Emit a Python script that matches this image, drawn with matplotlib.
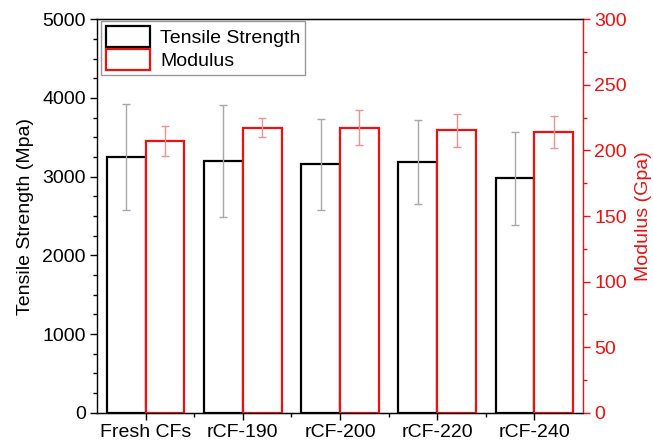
import matplotlib.pyplot as plt
import numpy as np

plt.rcParams['font.family'] = ['Liberation Sans', 'DejaVu Sans']

# данные
samples = ["Fresh CFs", "rCF-190", "rCF-200", "rCF-220", "rCF-240"]
strength = [3253, 3198, 3157, 3186, 2978]        # Mpa
strength_err = [675, 713, 580, 533, 590]
modulus = [207.2, 217.4, 217.4, 215.4, 214.1]    # Gpa
modulus_err = [11.2, 7.4, 13.3, 12.6, 12.0]

x = np.arange(len(samples))
w = 0.4
fs = 14

fig = plt.figure(figsize=(6.53, 4.44), dpi=100)
ax1 = fig.add_axes([0.1485, 0.0705, 0.7443, 0.886])
ax2 = ax1.twinx()

# прочность (черные столбцы)
b1 = ax1.bar(x - w / 2, strength, w, facecolor='white', edgecolor='black',
             linewidth=1.6, label='Tensile Strength', zorder=2)
ax1.errorbar(x - w / 2, strength, yerr=strength_err, fmt='none',
             ecolor='#a8a8a8', elinewidth=1.0, capsize=2.8, capthick=1.0,
             zorder=3)

# модуль (красные столбцы)
b2 = ax2.bar(x + w / 2, modulus, w, facecolor='white', edgecolor='#ee1111',
             linewidth=1.6, label='Modulus', zorder=2)
ax2.errorbar(x + w / 2, modulus, yerr=modulus_err, fmt='none',
             ecolor='#f09090', elinewidth=1.0, capsize=2.8, capthick=1.0,
             zorder=3)

ax1.set_xlim(-0.5, 4.5)
ax1.set_ylim(0, 5000)
ax2.set_ylim(0, 300)

ax1.set_xticks(x)
ax1.set_xticklabels(samples, fontsize=fs)
ax1.set_xticks(x[:-1] + 0.5, minor=True)
ax1.set_yticks(np.arange(0, 5001, 1000))
ax1.set_yticks(np.arange(0, 5001, 250), minor=True)
ax2.set_yticks(np.arange(0, 301, 50))
ax2.set_yticks(np.arange(0, 301, 25), minor=True)

ax1.tick_params(axis='both', which='major', direction='out', length=5,
                width=1.0, labelsize=fs, pad=3)
ax1.tick_params(axis='both', which='minor', direction='out', length=3,
                width=1.0)
ax2.tick_params(axis='y', which='major', direction='out', length=5,
                width=1.0, labelsize=fs, colors='#ee1111', pad=3)
ax2.tick_params(axis='y', which='minor', direction='out', length=3,
                width=1.0, colors='#ee1111')

for sp in ['left', 'bottom', 'top']:
    ax1.spines[sp].set_linewidth(1.0)
ax2.spines['right'].set_color('#ee1111')
ax2.spines['right'].set_linewidth(1.0)
ax2.spines['left'].set_visible(False)
ax1.spines['right'].set_visible(False)

ax1.set_ylabel("Tensile Strength (Mpa)", fontsize=fs, labelpad=6)
ax2.set_ylabel("Modulus (Gpa)", fontsize=fs, color='#ee1111', labelpad=6)

leg = ax2.legend([b1, b2], ['Tensile Strength', 'Modulus'], loc='upper left',
                 bbox_to_anchor=(0.008, 0.995), fontsize=fs, fancybox=False,
                 framealpha=1, edgecolor='#999999', handlelength=2.3,
                 handleheight=1.3, labelspacing=0.1, handletextpad=0.5,
                 borderpad=0.25, borderaxespad=0)
leg.get_frame().set_linewidth(1.0)

plt.savefig("out.png", dpi=100)
